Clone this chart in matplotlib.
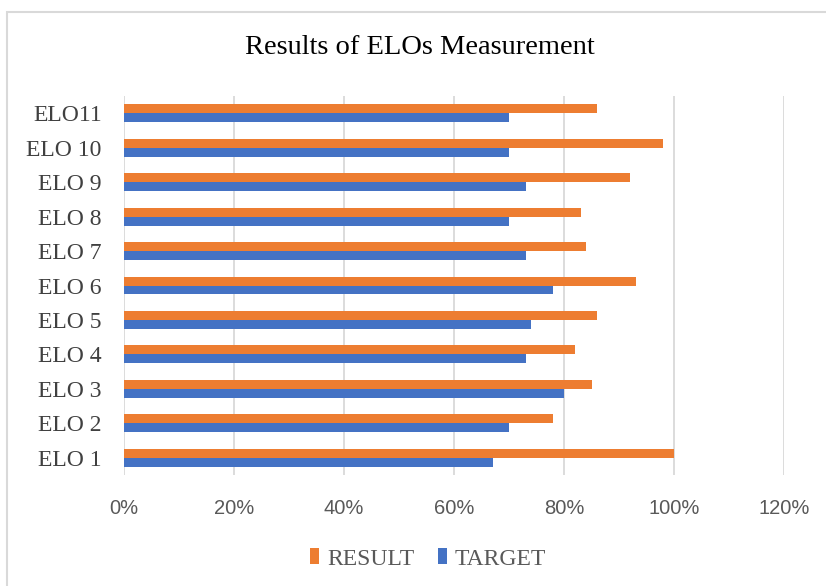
import matplotlib.pyplot as plt
import matplotlib.patches as mpatches
import numpy as np

elos = ["ELO 1", "ELO 2", "ELO 3", "ELO 4", "ELO 5", "ELO 6",
        "ELO 7", "ELO 8", "ELO 9", "ELO 10", "ELO11"]
result = [100, 78, 85, 82, 86, 93, 84, 83, 92, 98, 86]
target = [67, 70, 80, 73, 74, 78, 73, 70, 73, 70, 70]
xticks = [0, 20, 40, 60, 80, 100, 120]

orange = "#ED7D31"
blue = "#4472C4"
grid_c = "#D9D9D9"
gray_txt = "#595959"

fig = plt.figure(figsize=(8.26, 5.86), dpi=100)
ax = fig.add_axes([124 / 826, 1 - 475 / 586, 660 / 826, 379 / 586])

# chart border (cropped at right/bottom)
fig.patches.append(mpatches.Rectangle((7 / 826, -0.5), 2, 0.5 + 1 - 12 / 586,
                                      transform=fig.transFigure, fill=False,
                                      edgecolor=grid_c, linewidth=1.5))

y = np.arange(len(elos))
h = 0.26
ax.barh(y + h / 2, result, height=h, color=orange, label="RESULT", zorder=3)
ax.barh(y - h / 2, target, height=h, color=blue, label="TARGET", zorder=3)

ax.set_xlim(0, 120)
ax.set_ylim(-0.5, len(elos) - 0.5)
ax.set_xticks(xticks)
ax.set_xticklabels([f"{t}%" for t in xticks], fontfamily="Liberation Sans",
                   fontsize=14.5, color=gray_txt)
ax.set_yticks(y)
ax.set_yticklabels(elos, fontfamily="Liberation Serif", fontsize=17, color="#404040")
ax.tick_params(axis="x", length=0, pad=17)
ax.tick_params(axis="y", length=0, pad=16)
ax.grid(axis="x", color=grid_c, linewidth=1.3, zorder=0)
for s in ax.spines.values():
    s.set_visible(False)

fig.text(420 / 826, 1 - 48 / 586, "Results of ELOs Measurement", ha="center", va="center",
         fontfamily="Liberation Serif", fontsize=20.5, color="black")

leg = fig.legend(loc="center", bbox_to_anchor=(428 / 826, 1 - 559 / 586), ncol=2, frameon=False,
                 prop={"family": "Liberation Serif", "size": 17}, handlelength=0.38,
                 handleheight=0.64, handletextpad=0.34, columnspacing=1.0)
for t in leg.get_texts():
    t.set_color(gray_txt)

fig.savefig("out.png", dpi=100)
